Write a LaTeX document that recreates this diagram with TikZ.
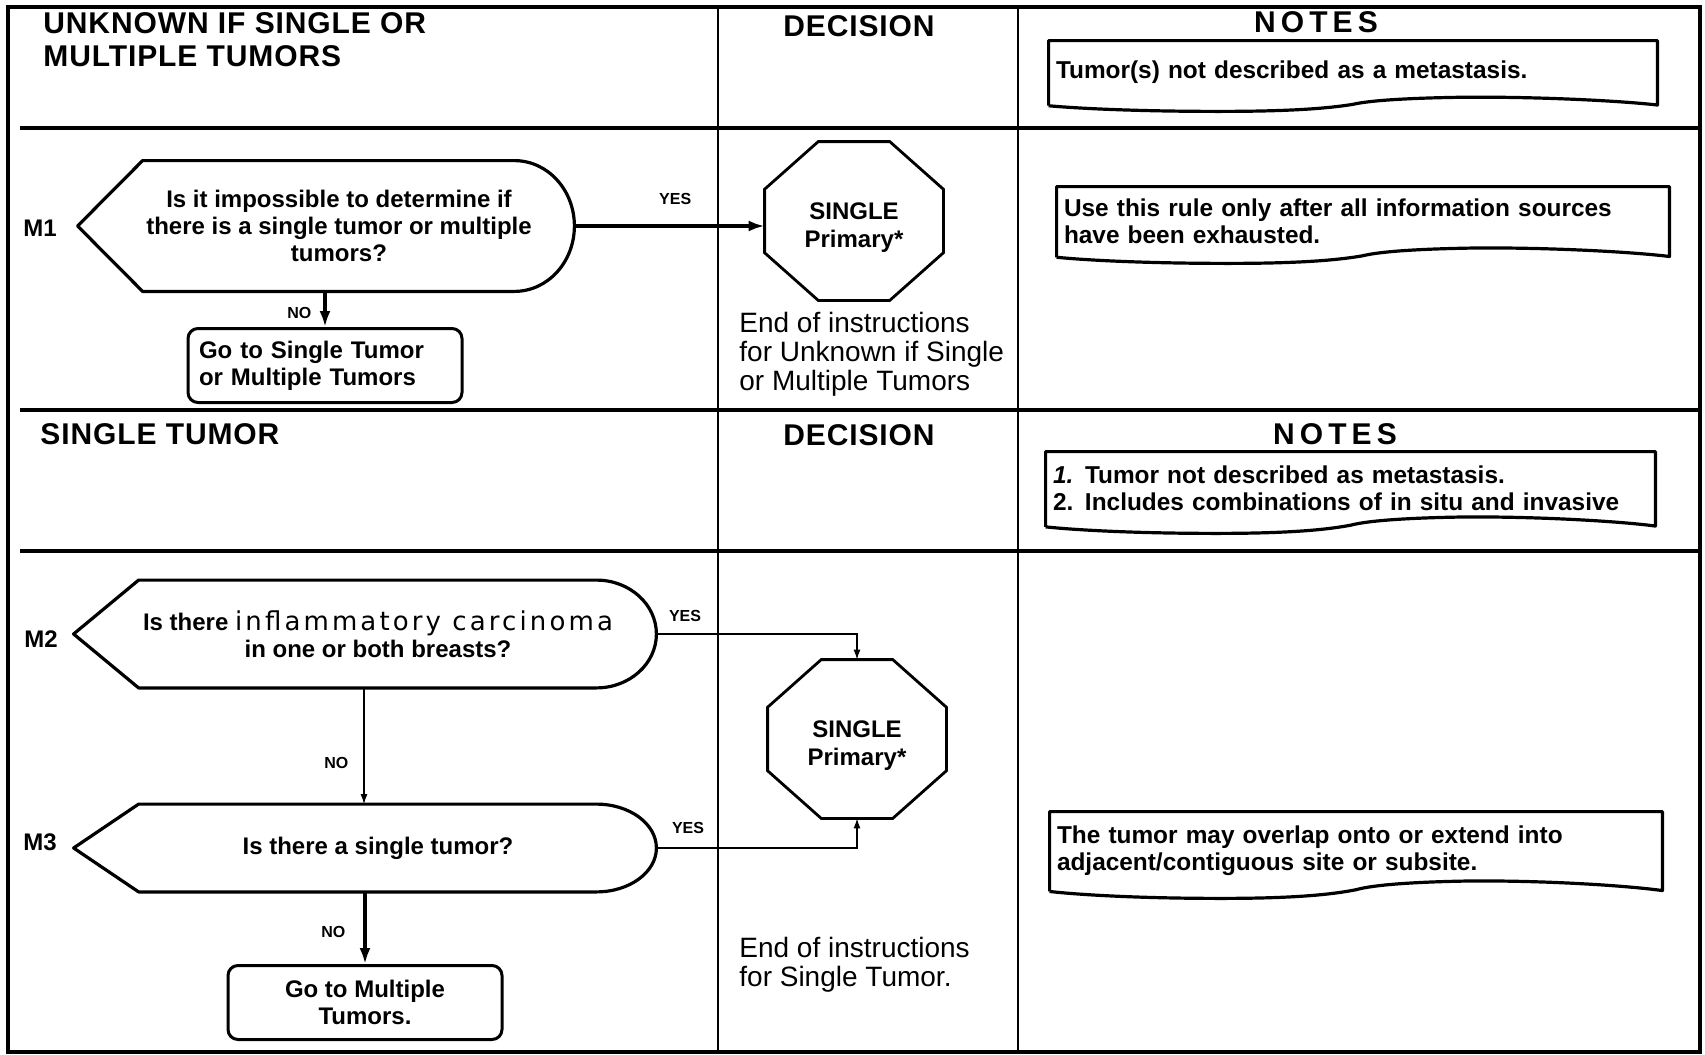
\documentclass[tikz,border=0pt]{standalone}
\usepackage{fontspec}
\setmainfont{Liberation Sans}
\newfontfamily\hdrfont{Liberation Sans}[LetterSpace=3]
\newfontfamily\notesfont{Liberation Sans}[LetterSpace=17]
\newfontfamily\widefont{DejaVu Sans}[LetterSpace=12]
\usetikzlibrary{arrows.meta,positioning,calc}

% outline of a decision box: pointed left end, rounded right end
\newcommand{\askdraw}[1]{%
  \draw[askbd] ([xshift=-13pt]#1.west) -- ([xshift=19.5pt]#1.north west)
    -- ([xshift=-30pt]#1.north east)
    .. controls ([xshift=-13.4pt]#1.north east) and ($(#1.east)!0.552!(#1.north east)$) .. (#1.east)
    .. controls ($(#1.east)!0.552!(#1.south east)$) and ([xshift=-13.4pt]#1.south east) .. ([xshift=-30pt]#1.south east)
    -- ([xshift=19.5pt]#1.south west) -- cycle;}

% octagon round a node
\newcommand{\octdraw}[1]{%
  \draw[octbd] ($(#1.north west)!0.3!(#1.north east)$) -- ($(#1.north west)!0.7!(#1.north east)$)
    -- ($(#1.north east)!0.3!(#1.south east)$) -- ($(#1.north east)!0.7!(#1.south east)$)
    -- ($(#1.south east)!0.3!(#1.south west)$) -- ($(#1.south east)!0.7!(#1.south west)$)
    -- ($(#1.south west)!0.3!(#1.north west)$) -- ($(#1.south west)!0.7!(#1.north west)$) -- cycle;}

% note box with a torn lower edge
\newcommand{\torndraw}[1]{%
  \draw[notebd] let \p1=([yshift=-2pt]#1.north west), \p2=([yshift=-2pt]#1.south east),
      \n1={\x2-\x1}, \n2={\y1-\y2} in
    (\x1,{\y2+0.08*\n2}) -- (\x1,\y1) -- (\x2,\y1) -- (\x2,{\y2+0.09*\n2})
    .. controls ({\x2-0.06*\n1},{\y2+0.15*\n2}) and ({\x2-0.2*\n1},{\y2+0.21*\n2}) .. ({\x2-0.32*\n1},{\y2+0.2*\n2})
    .. controls ({\x2-0.4*\n1},{\y2+0.19*\n2}) and ({\x2-0.47*\n1},{\y2+0.16*\n2}) .. ({\x1+0.5*\n1},{\y2+0.1*\n2})
    .. controls ({\x1+0.45*\n1},{\y2+0.03*\n2}) and ({\x1+0.38*\n1},{\y2}) .. ({\x1+0.28*\n1},{\y2})
    .. controls ({\x1+0.15*\n1},{\y2}) and ({\x1+0.05*\n1},{\y2+0.04*\n2}) .. (\x1,{\y2+0.08*\n2});}

\begin{document}
\begin{tikzpicture}[
  x=0.5pt, y=-0.5pt,
  >={Latex[length=8pt,width=5.5pt]},
  divider/.style={line width=1.6pt},
  hdr/.style={font=\hdrfont\bfseries\fontsize{15}{16.5}\selectfont, inner sep=0pt, align=left},
  notehdr/.style={font=\notesfont\bfseries\fontsize{15}{16.5}\selectfont, inner sep=0pt},
  mlab/.style={font=\bfseries\fontsize{12}{14}\selectfont, inner sep=0pt},
  ask/.style={align=center, inner sep=0pt, font=\bfseries\fontsize{12}{13.5}\selectfont},
  askbd/.style={line width=1.6pt, line join=round},
  octo/.style={minimum width=89pt, minimum height=79pt, inner sep=0pt, align=center,
    text height=26.5pt, text depth=0pt, font=\bfseries\fontsize{12}{14}\selectfont},
  octbd/.style={line width=1.4pt},
  gobox/.style={draw, rounded corners=5pt, line width=1.5pt, minimum width=137pt, minimum height=37pt,
    inner xsep=5.5pt, font=\bfseries\fontsize{12}{13.5}\selectfont},
  endtxt/.style={align=left, inner sep=0pt, font=\fontsize{14}{14.5}\selectfont},
  note/.style={text width=#1, inner xsep=3.5pt, inner ysep=0pt, align=left,
    font=\bfseries\fontsize{12.2}{13.5}\selectfont},
  notebd/.style={line width=1.6pt, line join=round},
  flow/.style={->, line width=1.6pt},
  thinflow/.style={-{Latex[length=5pt,width=3.5pt]}, line width=0.6pt},
  lab/.style={font=\bfseries\fontsize{8}{9}\selectfont, inner sep=0pt}
]
  \useasboundingbox (0,0) rectangle (1705,1055);

  % table lines
  \draw[divider] (8,7) rectangle (1700,1052);
  \foreach \yy in {128,410,551}
    \draw[divider] (20,\yy) -- (1700,\yy);
  \foreach \xx in {718,1018}
    \draw[divider, line width=1.4pt] (\xx,7) -- (\xx,1052);

  % headings
  \node[hdr, anchor=north west] (h1) at (43,12) {UNKNOWN IF SINGLE OR\\MULTIPLE TUMORS};
  \node[hdr] (dec1) at (859,26) {DECISION};
  \node[notehdr] (notes1) at (1316,22) {NOTES};
  \node[hdr, anchor=north west] (h2) at (40,423) {SINGLE TUMOR};
  \node[hdr] (dec2) at (859,435) {DECISION};
  \node[notehdr] (notes2) at (1335,434) {NOTES};

  % rule M1
  \node[mlab] (l1) at (40,228) {M1};
  \node[ask, minimum width=235pt, minimum height=65pt] (m1) at (339,226)
    {Is it impossible to determine if\\there is a single tumor or multiple\\tumors?};
  \askdraw{m1}
  \node[octo] (oct1) at (854,221) {SINGLE\\Primary*};
  \octdraw{oct1}
  \node[gobox, align=left, text width=126pt] (go1) at (325,365.5) {Go to Single Tumor\\or Multiple Tumors};
  \node[endtxt, anchor=west] (end1) at (739,354)
    {End of instructions\\for Unknown if Single\\or Multiple Tumors};

  \draw[flow] (m1.east) -- node[lab, above=10pt, pos=0.53] {YES} (m1.east -| oct1.west);
  \draw[flow] (go1.north |- m1.south) -- node[lab, left=6pt, pos=0.6] {NO} (go1.north);

  % rules M2 and M3
  \node[mlab] (l2) at (41,639) {M2};
  \node[ask, minimum width=278pt, minimum height=53.5pt] (m2) at (378,634)
    {Is there {\widefont\mdseries\fontsize{13}{13.5}\selectfont inflammatory carcinoma}\\in one or both breasts?};
  \askdraw{m2}
  \node[mlab] (l3) at (40,842) {M3};
  \node[ask, minimum width=278pt, minimum height=43.5pt] (m3) at (378,848)
    {Is there a single tumor?};
  \askdraw{m3}
  \node[octo] (oct2) at (857,739) {SINGLE\\Primary*};
  \octdraw{oct2}
  \node[gobox, align=center] (go2) at (365,1002.5) {Go to Multiple\\Tumors.};
  \node[endtxt, anchor=west] (end2) at (739,964.5) {End of instructions\\for Single Tumor.};

  \draw[thinflow] (m2.east) -| node[lab, pos=0, above right=6pt and 6pt] {YES} (oct2.north);
  \draw[thinflow] (m3.east) -| node[lab, pos=0, above right=7pt and 7.5pt] {YES} (oct2.south);
  \draw[thinflow] ([xshift=-7pt]m2.south) -- node[lab, left=7.5pt, pos=0.65] {NO} ([xshift=-7pt]m3.north);
  \draw[flow] (go2.north |- m3.south) -- node[lab, left=9pt, pos=0.55] {NO} (go2.north);

  % notes
  \node[note=297pt, minimum height=35pt] (n1) at (1353,72) {Tumor(s) not described as a metastasis.};
  \torndraw{n1}
  \node[note=299pt, minimum height=38pt] (n2) at (1363,221)
    {Use this rule only after all information sources\\have been exhausted.};
  \torndraw{n2}
  \node[note=297.5pt, minimum height=40.5pt] (n3) at (1350.5,488.5)
    {\makebox[16pt][l]{\itshape 1.}Tumor not described as metastasis.\\\makebox[16pt][l]{2.}Includes combinations of in situ and invasive};
  \torndraw{n3}
  \node[note=299pt, minimum height=43pt] (n4) at (1356,851)
    {The tumor may overlap onto or extend into\\adjacent/contiguous site or subsite.};
  \torndraw{n4}
\end{tikzpicture}
\end{document}
